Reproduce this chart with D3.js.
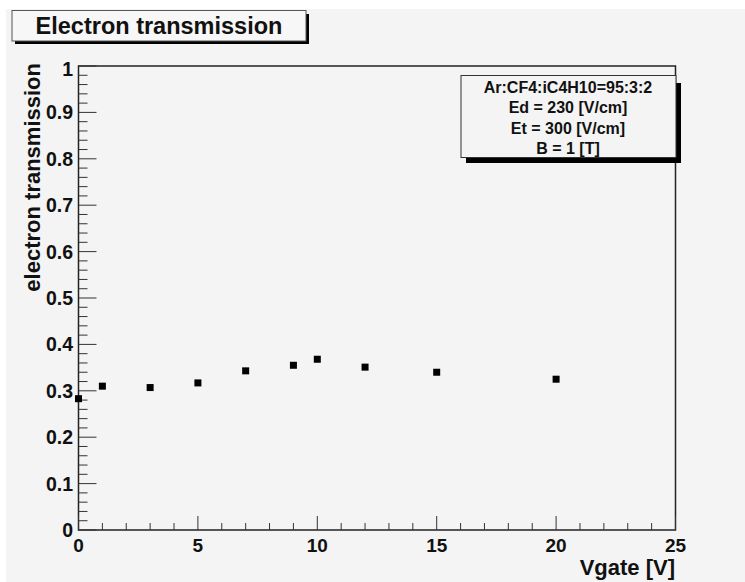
<!DOCTYPE html>
<html>
<head>
<meta charset="utf-8">
<script src="https://cdn.jsdelivr.net/npm/d3@7"></script>
<style>
  html, body { margin: 0; padding: 0; background: #ffffff; }
  svg { display: block; }
  text { font-family: "Liberation Sans", Arial, sans-serif; font-weight: bold; fill: #111; }
</style>
</head>
<body>
<script>
// values
var vgate = [0, 1, 3, 5, 7, 9, 10, 12, 15, 20];
var transmission = [0.283, 0.310, 0.307, 0.317, 0.343, 0.355, 0.368, 0.351, 0.340, 0.325];
var xTicks = [0, 5, 10, 15, 20, 25];
var yTicks = [0, 0.1, 0.2, 0.3, 0.4, 0.5, 0.6, 0.7, 0.8, 0.9, 1];
var legendLines = ["Ar:CF4:iC4H10=95:3:2", "Ed = 230 [V/cm]", "Et = 300 [V/cm]", "B = 1 [T]"];

(function () {
    var W = 745, H = 582;
    // frame edges (pixels)
    var fLeft = 78.5, fRight = 675.5, fTop = 66, fBottom = 530;

    var svg = d3.select("body").append("svg")
        .attr("width", W)
        .attr("height", H);

    // pad background
    svg.append("rect")
        .attr("x", 6).attr("y", 9)
        .attr("width", W - 6).attr("height", H - 9)
        .attr("fill", "#f4f4f4");

    var x = d3.scaleLinear().domain([0, 25]).range([fLeft, fRight]);
    var y = d3.scaleLinear().domain([0, 1]).range([fBottom, fTop]);

    // frame
    svg.append("rect")
        .attr("x", fLeft).attr("y", fTop)
        .attr("width", fRight - fLeft).attr("height", fBottom - fTop)
        .attr("fill", "none")
        .attr("stroke", "#222")
        .attr("stroke-width", 1.5);

    // x ticks: minor every 1, major every 5
    var xMinor = d3.range(0, 26, 1);
    svg.selectAll(".xtick")
        .data(xMinor)
        .enter()
        .append("line")
        .attr("class", "xtick")
        .attr("x1", function (d) { return x(d); })
        .attr("x2", function (d) { return x(d); })
        .attr("y1", fBottom)
        .attr("y2", function (d) { return d % 5 === 0 ? fBottom - 14 : fBottom - 7; })
        .attr("stroke", "#333")
        .attr("stroke-width", 1);

    // y ticks: minor every 0.02, major every 0.1
    var yMinor = d3.range(0, 51, 1).map(function (i) { return i * 0.02; });
    svg.selectAll(".ytick")
        .data(yMinor)
        .enter()
        .append("line")
        .attr("class", "ytick")
        .attr("x1", fLeft)
        .attr("x2", function (d, i) { return i % 5 === 0 ? fLeft + 18 : fLeft + 9; })
        .attr("y1", function (d) { return y(d); })
        .attr("y2", function (d) { return y(d); })
        .attr("stroke", "#333")
        .attr("stroke-width", 1);

    // tick labels
    svg.selectAll(".xlab")
        .data(xTicks)
        .enter()
        .append("text")
        .attr("class", "xlab")
        .attr("x", function (d) { return x(d); })
        .attr("y", 552)
        .attr("text-anchor", "middle")
        .attr("font-size", 19)
        .text(function (d) { return d; });

    svg.selectAll(".ylab")
        .data(yTicks)
        .enter()
        .append("text")
        .attr("class", "ylab")
        .attr("x", 73)
        .attr("y", function (d) { return y(d) + (d === 1 ? 10 : 7); })
        .attr("text-anchor", "end")
        .attr("font-size", 19.5)
        .text(function (d) { return d3.format("~g")(d); });

    // axis titles
    svg.append("text")
        .attr("x", 675)
        .attr("y", 575)
        .attr("text-anchor", "end")
        .attr("font-size", 22)
        .text("Vgate [V]");

    svg.append("text")
        .attr("transform", "translate(40,63) rotate(-90)")
        .attr("text-anchor", "end")
        .attr("font-size", 22)
        .text("electron transmission");

    // data points
    svg.selectAll(".pt")
        .data(vgate)
        .enter()
        .append("rect")
        .attr("class", "pt")
        .attr("x", function (d) { return x(d) - 3.5; })
        .attr("y", function (d, i) { return y(transmission[i]) - 3.5; })
        .attr("width", 7)
        .attr("height", 7)
        .attr("fill", "#000");

    // title box with shadow
    svg.append("rect")
        .attr("x", 15).attr("y", 14)
        .attr("width", 294).attr("height", 30)
        .attr("fill", "#000");
    svg.append("rect")
        .attr("x", 12).attr("y", 10.5)
        .attr("width", 294).attr("height", 30.5)
        .attr("fill", "#f7f7f7")
        .attr("stroke", "#555")
        .attr("stroke-width", 1);
    svg.append("text")
        .attr("x", 159)
        .attr("y", 34)
        .attr("text-anchor", "middle")
        .attr("font-size", 23.5)
        .text("Electron transmission");

    // legend box with shadow
    svg.append("rect")
        .attr("x", 466).attr("y", 83)
        .attr("width", 215).attr("height", 80)
        .attr("fill", "#000");
    svg.append("rect")
        .attr("x", 461).attr("y", 75.5)
        .attr("width", 215).attr("height", 82)
        .attr("fill", "#f4f4f4")
        .attr("stroke", "#333")
        .attr("stroke-width", 1);
    svg.selectAll(".leg")
        .data(legendLines)
        .enter()
        .append("text")
        .attr("class", "leg")
        .attr("x", 568)
        .attr("y", function (d, i) { return 92.5 + i * 20.5; })
        .attr("text-anchor", "middle")
        .attr("font-size", 16)
        .text(function (d) { return d; });
})();
</script>
</body>
</html>
